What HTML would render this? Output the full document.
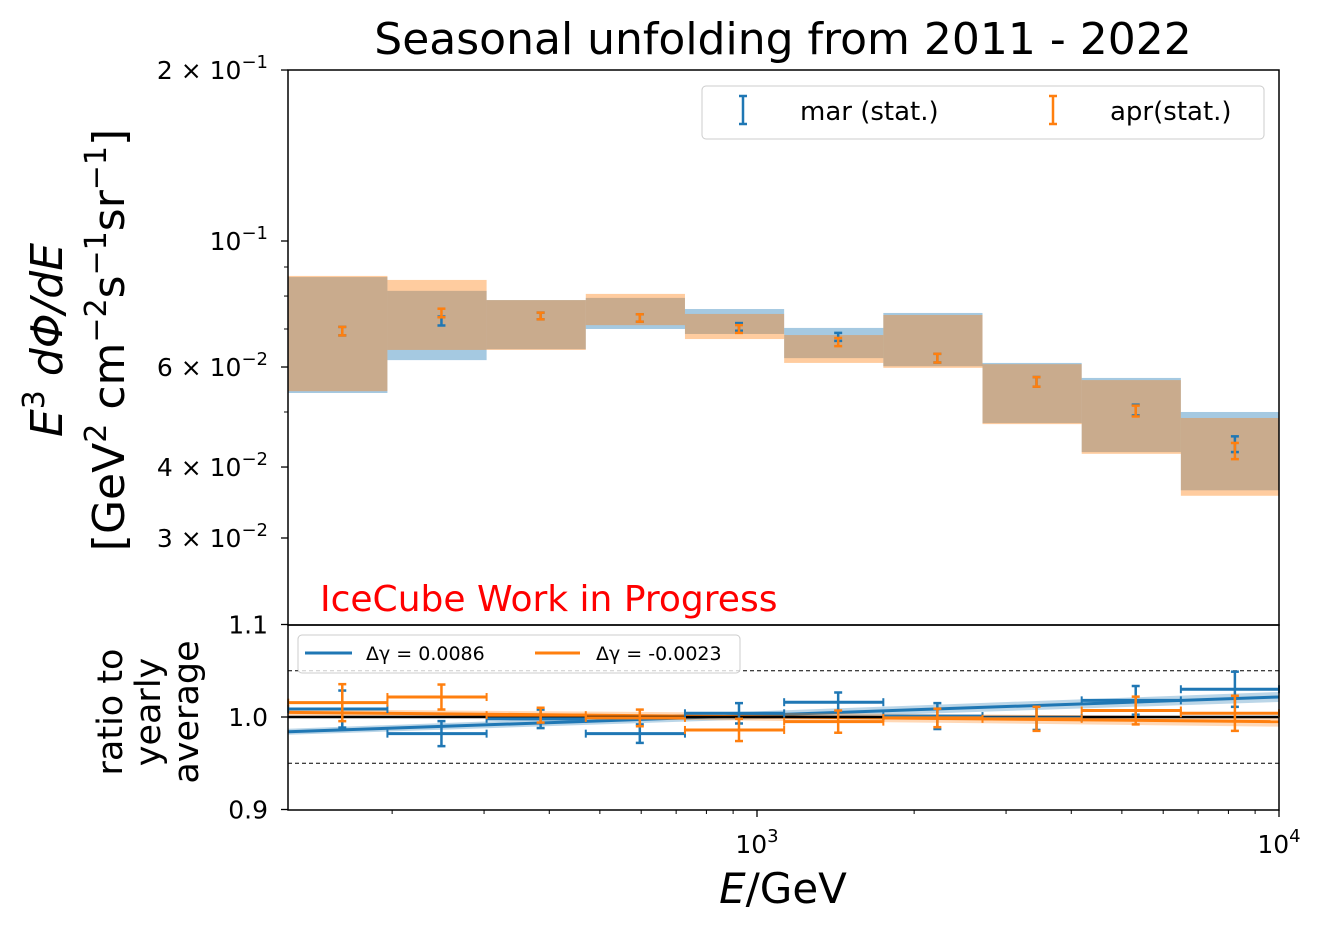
<!DOCTYPE html>
<html><head><meta charset="utf-8"><style>
html,body{margin:0;padding:0;background:#fff}
svg{display:block;font-family:"DejaVu Sans","Liberation Sans",sans-serif}
</style></head><body>
<svg id="chart" width="1328" height="934" viewBox="0 0 1328 934">
<text x="783" y="54" font-size="44" text-anchor="middle">Seasonal unfolding from 2011 - 2022</text>
<g id="topPanel"></g>
<g id="botPanel"></g>
<text x="320" y="611" font-size="36" fill="#ff0000">IceCube Work in Progress</text>
<g transform="translate(62,340) rotate(-90)">
<text x="0" y="0" font-size="44" text-anchor="middle" font-style="italic">E<tspan font-size="30" dy="-18" font-style="normal">3</tspan><tspan dy="18"> dΦ/dE</tspan></text>
<text x="0" y="62" font-size="44" text-anchor="middle">[GeV<tspan font-size="30" dy="-18">2</tspan><tspan dy="18"> cm</tspan><tspan font-size="30" dy="-18">−2</tspan><tspan dy="18">s</tspan><tspan font-size="30" dy="-18">−1</tspan><tspan dy="18">sr</tspan><tspan font-size="30" dy="-18">−1</tspan><tspan dy="18">]</tspan></text>
</g>
<g transform="translate(122,712) rotate(-90)" font-size="35" text-anchor="middle">
<text x="0" y="0">ratio to</text><text x="0" y="38">yearly</text><text x="0" y="76">average</text>
</g>
<text x="783" y="903" font-size="42" text-anchor="middle"><tspan font-style="italic">E</tspan>/GeV</text>
</svg>
<script>
// ---- data ----
const binEdgesLog = [2.102,2.292,2.482,2.672,2.862,3.052,3.242,3.432,3.622,3.812,4.0];
const pointLogE = [2.2055,2.3955,2.5855,2.7755,2.9655,3.1555,3.3455,3.5355,3.7255,3.9155];
const marHi = [0.0864,0.0817,0.0787,0.0794,0.0759,0.0703,0.0747,0.0610,0.0574,0.0500];
const marLo = [0.0540,0.0617,0.0645,0.0700,0.0686,0.0622,0.0602,0.0478,0.0425,0.0364];
const aprHi = [0.0868,0.0854,0.0787,0.0807,0.0744,0.0683,0.0741,0.0607,0.0569,0.0488];
const aprLo = [0.0544,0.0643,0.0643,0.0711,0.0672,0.0610,0.0598,0.0476,0.0422,0.0356];
const marVal = [0.0694,0.0723,0.0738,0.0732,0.0706,0.0678,0.0622,0.0565,0.0504,0.0439];
const aprVal = [0.0694,0.0747,0.0738,0.0732,0.0700,0.0664,0.0622,0.0565,0.0502,0.0427];
const marErr = [0.0012,0.0013,0.0010,0.0011,0.0011,0.0011,0.0011,0.0011,0.0011,0.0014];
const aprErr = [0.0012,0.0013,0.0010,0.0011,0.0011,0.0011,0.0011,0.0011,0.0011,0.0014];
const marRatio = [1.0086,0.982,0.998,0.982,1.004,1.016,1.001,0.999,1.018,1.030];
const aprRatio = [1.0155,1.0216,1.002,0.999,0.986,0.995,0.999,0.998,1.007,1.004];
const marRatioErr = [0.020,0.0135,0.010,0.010,0.011,0.0105,0.014,0.013,0.0155,0.019];
const aprRatioErr = [0.020,0.0135,0.008,0.009,0.012,0.012,0.010,0.013,0.015,0.019];
const fitGamma = [0.0086,-0.0023];
const fitNormLeft = [0.984,1.005];
const topTicks = [0.2,0.1,0.06,0.04,0.03];
const topTickLabels = [["2","−1"],["","−1"],["6","−2"],["4","−2"],["3","−2"]];
const ratioTicks = [1.1,1.0,0.9];
const ratioTickLabels = ["1.1","1.0","0.9"];

// ---- axes ----
const X0=288,X1=1279,TY0=70,TY1=625,BY0=625,BY1=810;
const xs = l => 757 + (l-3)*522;
const ys = v => 241 + (-1-Math.log10(v))*568;
const yr = r => 717 - (r-1)*925;
const NS="http://www.w3.org/2000/svg";
const topG=document.getElementById('topPanel'), botG=document.getElementById('botPanel');
function mk(parent,tag,attrs,name){const e=document.createElementNS(NS,tag);for(const k in attrs)e.setAttribute(k,attrs[k]);


parent.appendChild(e);return e;}
const BLUE="#1f77b4",ORANGE="#ff7f0e";

for(let i=0;i<10;i++){
 const xa=xs(binEdgesLog[i]),xb=xs(binEdgesLog[i+1]);
 mk(topG,'rect',{x:xa,y:ys(marHi[i]),width:xb-xa,height:ys(marLo[i])-ys(marHi[i]),fill:BLUE,'fill-opacity':0.4},'mar-band');
}
for(let i=0;i<10;i++){
 const xa=xs(binEdgesLog[i]),xb=xs(binEdgesLog[i+1]);
 mk(topG,'rect',{x:xa,y:ys(aprHi[i]),width:xb-xa,height:ys(aprLo[i])-ys(aprHi[i]),fill:ORANGE,'fill-opacity':0.4},'apr-band');
}
function ebar(parent,x,y1,y2,col,name){
 mk(parent,'line',{x1:x,x2:x,y1:y1,y2:y2,stroke:col,'stroke-width':2.5},name);
 mk(parent,'line',{x1:x-4,x2:x+4,y1:y1,y2:y1,stroke:col,'stroke-width':2.5},name+'-cap');
 mk(parent,'line',{x1:x-4,x2:x+4,y1:y2,y2:y2,stroke:col,'stroke-width':2.5},name+'-cap');
}
for(let i=0;i<10;i++){
 const x=xs(pointLogE[i]);
 ebar(topG,x,ys(marVal[i]+marErr[i]),ys(marVal[i]-marErr[i]),BLUE,'mar-errorbar');
 ebar(topG,x,ys(aprVal[i]+aprErr[i]),ys(aprVal[i]-aprErr[i]),ORANGE,'apr-errorbar');
}
mk(topG,'rect',{x:X0,y:TY0,width:X1-X0,height:TY1-TY0,fill:'none',stroke:'#000','stroke-width':1.5},'top-frame');
topTicks.forEach((v,i)=>{const y=ys(v);
 mk(topG,'line',{x1:X0-7,x2:X0,y1:y,y2:y,stroke:'#000','stroke-width':1.3},'y-tick');
 const t=mk(topG,'text',{x:268,y:y+9,'font-size':25,'text-anchor':'end'},'y-tick-label');
 const [m,e]=topTickLabels[i];
 t.innerHTML=(m?m+' × ':'')+'10<tspan font-size="18" dy="-11">'+e+'</tspan>';
});
[0.05,0.07,0.08,0.09].forEach(v=>{const y=ys(v);mk(topG,'line',{x1:X0-4,x2:X0,y1:y,y2:y,stroke:'#000','stroke-width':1},'y-minor-tick');});
const lg=mk(topG,'g',{},'top-legend');
mk(lg,'rect',{x:702,y:86,width:562,height:53,rx:4,fill:'#fff','fill-opacity':0.8,stroke:'#ccc'},'legend-box');
ebar(lg,743,96,124,BLUE,'legend-mar-marker');
mk(lg,'text',{x:800,y:120,'font-size':26},'legend-mar-label').textContent='mar (stat.)';
ebar(lg,1053,96,124,ORANGE,'legend-apr-marker');
mk(lg,'text',{x:1110,y:120,'font-size':26},'legend-apr-label').textContent='apr(stat.)';

[1.05,0.95].forEach(r=>mk(botG,'line',{x1:X0,x2:X1,y1:yr(r),y2:yr(r),stroke:'#000','stroke-width':1,'stroke-dasharray':'4,3'},'ratio-dashed-line'));
const cols=[BLUE,ORANGE];
fitGamma.forEach((g,k)=>{
 const l0=binEdgesLog[0],l1=binEdgesLog[10];
 const r0=fitNormLeft[k], r1=r0*Math.pow(10,g*(l1-l0));
 mk(botG,'polygon',{points:`${xs(l0)},${yr(r0)-3} ${xs(l1)},${yr(r1)-5} ${xs(l1)},${yr(r1)+5} ${xs(l0)},${yr(r0)+3}`,fill:cols[k],'fill-opacity':0.3},'fit-band');
 mk(botG,'line',{x1:xs(l0),x2:xs(l1),y1:yr(r0),y2:yr(r1),stroke:cols[k],'stroke-width':3},'fit-line');
});
mk(botG,'line',{x1:X0,x2:X1,y1:yr(1),y2:yr(1),stroke:'#000','stroke-width':2.5},'unity-line');
function rbar(i,vals,errs,col,name){
 const xa=xs(binEdgesLog[i]),xb=xs(binEdgesLog[i+1]),x=xs(pointLogE[i]),y=yr(vals[i]);
 mk(botG,'line',{x1:xa,x2:xb,y1:y,y2:y,stroke:col,'stroke-width':3},name);
 mk(botG,'line',{x1:xa,x2:xa,y1:y-4,y2:y+4,stroke:col,'stroke-width':2},name+'-cap');
 mk(botG,'line',{x1:xb,x2:xb,y1:y-4,y2:y+4,stroke:col,'stroke-width':2},name+'-cap');
 ebar(botG,x,yr(vals[i]+errs[i]),yr(vals[i]-errs[i]),col,name+'-vertical');
}
for(let i=0;i<10;i++){rbar(i,marRatio,marRatioErr,BLUE,'mar-ratio-point');rbar(i,aprRatio,aprRatioErr,ORANGE,'apr-ratio-point');}
mk(botG,'rect',{x:X0,y:BY0,width:X1-X0,height:BY1-BY0,fill:'none',stroke:'#000','stroke-width':1.5},'ratio-frame');
ratioTicks.forEach((r,i)=>{const y=yr(r);
 mk(botG,'line',{x1:X0-7,x2:X0,y1:y,y2:y,stroke:'#000','stroke-width':1.3},'ratio-tick');
 mk(botG,'text',{x:268,y:y+9,'font-size':25,'text-anchor':'end'},'ratio-tick-label').textContent=ratioTickLabels[i];
});
[2,3].forEach(d=>{for(let m=1;m<10;m++){const l=d+Math.log10(m);if(l<binEdgesLog[0]||l>4.001)continue;
 const x=xs(l);mk(botG,'line',{x1:x,x2:x,y1:BY1,y2:BY1+4,stroke:'#000','stroke-width':1},'x-minor-tick');}});
[3,4].forEach(d=>{const x=xs(d);
 mk(botG,'line',{x1:x,x2:x,y1:BY1,y2:BY1+7,stroke:'#000','stroke-width':1.3},'x-tick');
 const t=mk(botG,'text',{x:x,y:853,'font-size':25,'text-anchor':'middle'},'x-tick-label');
 t.innerHTML='10<tspan font-size="18" dy="-11">'+d+'</tspan>';});
const l2=mk(botG,'g',{},'ratio-legend');
mk(l2,'rect',{x:298,y:635,width:442,height:38,rx:4,fill:'#fff','fill-opacity':0.8,stroke:'#ccc'},'ratio-legend-box');
mk(l2,'line',{x1:305,x2:352,y1:653,y2:653,stroke:BLUE,'stroke-width':3},'legend-fit-mar');
mk(l2,'text',{x:366,y:660,'font-size':19},'legend-fit-mar-label').textContent='Δγ = 0.0086';
mk(l2,'line',{x1:535,x2:580,y1:653,y2:653,stroke:ORANGE,'stroke-width':3},'legend-fit-apr');
mk(l2,'text',{x:596,y:660,'font-size':19},'legend-fit-apr-label').textContent='Δγ = -0.0023';
</script>
</body></html>
